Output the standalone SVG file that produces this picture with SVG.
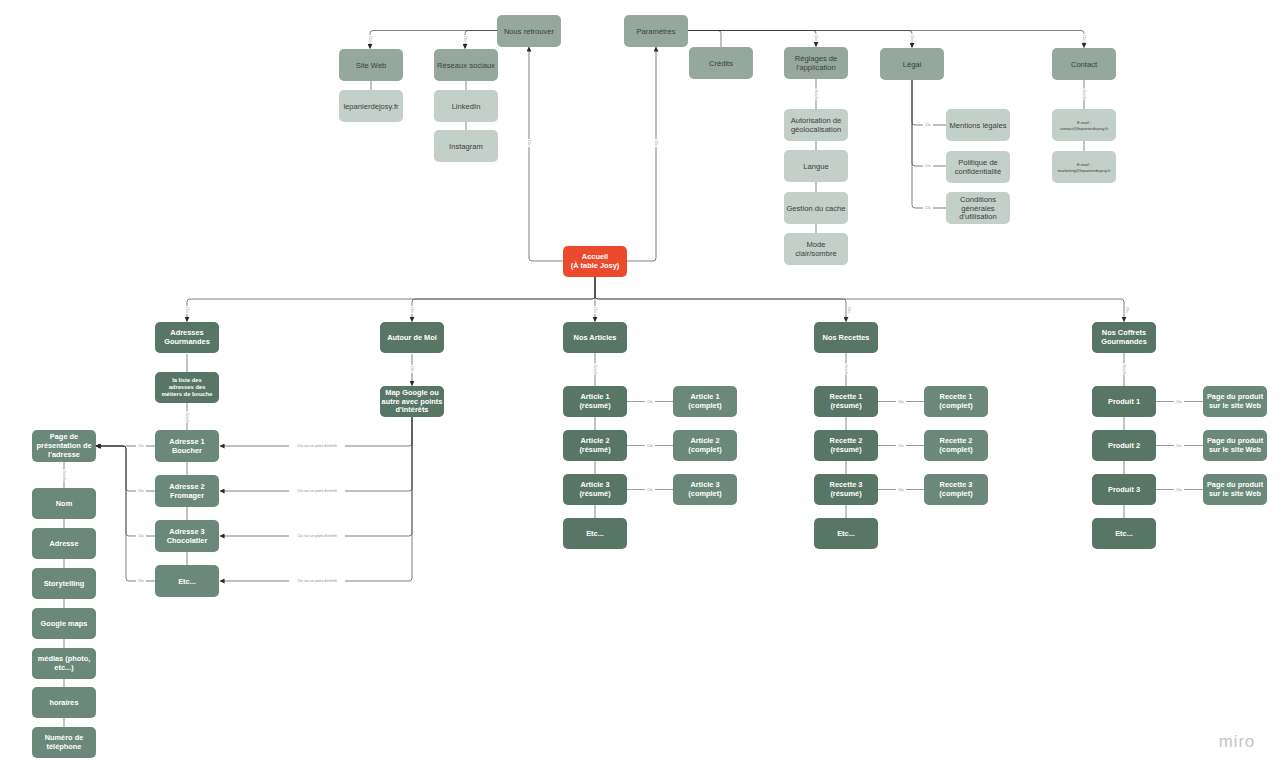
<svg xmlns="http://www.w3.org/2000/svg" width="1286" height="777" viewBox="0 0 1286 777">
<defs>
<marker id="ar" viewBox="0 0 6 6" refX="5.5" refY="3" markerWidth="5" markerHeight="5" orient="auto" markerUnits="userSpaceOnUse">
<path d="M0,0 L6,3 L0,6 z" fill="#2a2a2a"/>
</marker>
<style>
.n rect{rx:5;ry:5}
.top rect{fill:#95a89e}
.lt rect{fill:#c3cfc9}
.dk rect{fill:#587666}
.md rect{fill:#6b897b}
.rd rect{fill:#ec4a2c}
text{font-family:"Liberation Sans",Arial,sans-serif;text-anchor:middle}
.top text,.lt text{fill:#3d3d3d;font-size:7.6px}
.dk text,.md text,.rd text{fill:#ffffff;font-size:7.4px;font-weight:bold}
.c{fill:none;stroke:#333;stroke-opacity:.62;stroke-width:1}
.p{fill:none;stroke:#9c9c9c;stroke-width:1.2}
.lb{font-size:3.6px;fill:#8d8d8d}
.lbb{fill:#fff}
</style>
</defs>
<rect width="1286" height="777" fill="#ffffff"/>

<g id="connectors">
<path class="c" d="M497,30.5 H373 Q370,30.5 370,33.5 V48.5" marker-end="url(#ar)"/>
<path class="c" d="M497,30.5 H468 Q465,30.5 465,33.5 V48.5" marker-end="url(#ar)"/>
<path class="p" d="M371,81 V90 M466,81 V90 M466,122 V130"/>
<path class="c" d="M563,261 H532 Q529,261 529,258 V47" marker-end="url(#ar)"/>
<path class="c" d="M627,261 H653 Q656,261 656,258 V47" marker-end="url(#ar)"/>
<path class="c" d="M688,30.5 H718 Q721,30.5 721,33.5 V47"/>
<path class="c" d="M688,30.5 H813 Q816,30.5 816,33.5 V46.5" marker-end="url(#ar)"/>
<path class="c" d="M688,30.5 H909 Q912,30.5 912,33.5 V47.5" marker-end="url(#ar)"/>
<path class="c" d="M688,30.5 H1081 Q1084,30.5 1084,33.5 V47.5" marker-end="url(#ar)"/>
<path class="p" d="M816,79 V109 M816,141 V150 M816,182 V192 M816,224 V233"/>
<path class="c" d="M912,80 V122 Q912,125 915,125 H946"/>
<path class="c" d="M912,80 V163 Q912,166 915,166 H946"/>
<path class="c" d="M912,80 V205 Q912,208 915,208 H946"/>
<path class="p" d="M1084,80 V109 M1084,141 V151"/>
<path class="c" d="M595,277 V296 Q595,299 592,299 H190 Q187,299 187,302 V321.5" marker-end="url(#ar)"/>
<path class="c" d="M595,277 V296 Q595,299 592,299 H415 Q412,299 412,302 V321.5" marker-end="url(#ar)"/>
<path class="c" d="M595,277 V321.5" marker-end="url(#ar)"/>
<path class="c" d="M595,277 V296 Q595,299 598,299 H843 Q846,299 846,302 V321.5" marker-end="url(#ar)"/>
<path class="c" d="M595,277 V296 Q595,299 598,299 H1121 Q1124,299 1124,302 V321.5" marker-end="url(#ar)"/>
<path class="p" d="M187,354 V372 M187,403 V430 M187,462 V475 M187,507 V520 M187,552 V565"/>
<path class="c" d="M155,446 H96" marker-end="url(#ar)"/>
<path class="c" d="M155,491 H129 Q126,491 126,488 V449 Q126,446 123,446 H96" marker-end="url(#ar)"/>
<path class="c" d="M155,536 H129 Q126,536 126,533 V449 Q126,446 123,446 H96" marker-end="url(#ar)"/>
<path class="c" d="M155,581 H129 Q126,581 126,578 V449 Q126,446 123,446 H96" marker-end="url(#ar)"/>
<path class="p" d="M64,462 V488 M64,519 V528 M64,559 V568 M64,599 V608 M64,639 V648 M64,679 V687 M64,718 V727"/>
<path class="c" d="M412,354 V385.5" marker-end="url(#ar)"/>
<path class="c" d="M412,417 V443 Q412,446 409,446 H220" marker-end="url(#ar)"/>
<path class="c" d="M412,417 V488 Q412,491 409,491 H220" marker-end="url(#ar)"/>
<path class="c" d="M412,417 V533 Q412,536 409,536 H220" marker-end="url(#ar)"/>
<path class="c" d="M412,417 V578 Q412,581 409,581 H220" marker-end="url(#ar)"/>
<path class="p" d="M595,353 V386 M595,417 V430 M595,461 V474 M595,505 V518"/>
<path class="p" d="M627,401.5 H673 M627,445.5 H673 M627,489.5 H673"/>
<path class="p" d="M846,353 V386 M846,417 V430 M846,461 V474 M846,505 V518"/>
<path class="p" d="M878,401.5 H924 M878,445.5 H924 M878,489.5 H924"/>
<path class="p" d="M1124,353 V386 M1124,417 V430 M1124,461 V474 M1124,505 V518"/>
<path class="p" d="M1156,401.5 H1203 M1156,445.5 H1203 M1156,489.5 H1203"/>

<g id="labels-v">
<g transform="translate(370,39) rotate(90)"><rect class="lbb" x="-4" y="-2.5" width="8" height="5"/><text class="lb" y="1.3">Clic</text></g>
<g transform="translate(465,39) rotate(90)"><rect class="lbb" x="-4" y="-2.5" width="8" height="5"/><text class="lb" y="1.3">Clic</text></g>
<g transform="translate(529,143) rotate(90)"><rect class="lbb" x="-4" y="-2.5" width="8" height="5"/><text class="lb" y="1.3">Clic</text></g>
<g transform="translate(656,143) rotate(90)"><rect class="lbb" x="-4" y="-2.5" width="8" height="5"/><text class="lb" y="1.3">Clic</text></g>
<g transform="translate(816,38) rotate(90)"><rect class="lbb" x="-4" y="-2.5" width="8" height="5"/><text class="lb" y="1.3">Clic</text></g>
<g transform="translate(912,38) rotate(90)"><rect class="lbb" x="-4" y="-2.5" width="8" height="5"/><text class="lb" y="1.3">Clic</text></g>
<g transform="translate(1084,38) rotate(90)"><rect class="lbb" x="-4" y="-2.5" width="8" height="5"/><text class="lb" y="1.3">Clic</text></g>
<g transform="translate(816,94) rotate(90)"><rect class="lbb" x="-5.5" y="-2.5" width="11" height="5"/><text class="lb" y="1.3">Scroll</text></g>
<g transform="translate(1084,94) rotate(90)"><rect class="lbb" x="-5.5" y="-2.5" width="11" height="5"/><text class="lb" y="1.3">Scroll</text></g>
<g transform="translate(187,310) rotate(90)"><rect class="lbb" x="-4" y="-2.5" width="8" height="5"/><text class="lb" y="1.3">Clic</text></g>
<g transform="translate(412,310) rotate(90)"><rect class="lbb" x="-4" y="-2.5" width="8" height="5"/><text class="lb" y="1.3">Clic</text></g>
<g transform="translate(595,310) rotate(90)"><rect class="lbb" x="-4" y="-2.5" width="8" height="5"/><text class="lb" y="1.3">Clic</text></g>
<g transform="translate(849,310) rotate(90)"><text class="lb" y="1.3">Clic</text></g>
<g transform="translate(1127,310) rotate(90)"><text class="lb" y="1.3">Clic</text></g>
<g transform="translate(187,417) rotate(90)"><rect class="lbb" x="-5.5" y="-2.5" width="11" height="5"/><text class="lb" y="1.3">Scroll</text></g>
<g transform="translate(64,475) rotate(90)"><rect class="lbb" x="-5.5" y="-2.5" width="11" height="5"/><text class="lb" y="1.3">Scroll</text></g>
<g transform="translate(412,369) rotate(90)"><rect class="lbb" x="-4" y="-2.5" width="8" height="5"/><text class="lb" y="1.3">Clic</text></g>
<g transform="translate(595,369) rotate(90)"><rect class="lbb" x="-5.5" y="-2.5" width="11" height="5"/><text class="lb" y="1.3">Scroll</text></g>
<g transform="translate(846,369) rotate(90)"><rect class="lbb" x="-5.5" y="-2.5" width="11" height="5"/><text class="lb" y="1.3">Scroll</text></g>
<g transform="translate(1124,369) rotate(90)"><rect class="lbb" x="-5.5" y="-2.5" width="11" height="5"/><text class="lb" y="1.3">Scroll</text></g>
</g>
<g id="labels-h">
<rect class="lbb" x="923" y="122.5" width="10" height="5"/><text class="lb" x="928" y="126.3">Clic</text>
<rect class="lbb" x="923" y="163.5" width="10" height="5"/><text class="lb" x="928" y="167.3">Clic</text>
<rect class="lbb" x="923" y="205.5" width="10" height="5"/><text class="lb" x="928" y="209.3">Clic</text>
<rect class="lbb" x="136" y="443.5" width="10" height="5"/><text class="lb" x="141" y="447.3">Clic</text>
<rect class="lbb" x="136" y="488.5" width="10" height="5"/><text class="lb" x="141" y="492.3">Clic</text>
<rect class="lbb" x="136" y="533.5" width="10" height="5"/><text class="lb" x="141" y="537.3">Clic</text>
<rect class="lbb" x="136" y="578.5" width="10" height="5"/><text class="lb" x="141" y="582.3">Clic</text>
<rect class="lbb" x="289" y="443.5" width="56" height="5"/><text class="lb" x="317" y="447.3">Clic sur un point d'intérêt</text>
<rect class="lbb" x="289" y="488.5" width="56" height="5"/><text class="lb" x="317" y="492.3">Clic sur un point d'intérêt</text>
<rect class="lbb" x="289" y="533.5" width="56" height="5"/><text class="lb" x="317" y="537.3">Clic sur un point d'intérêt</text>
<rect class="lbb" x="289" y="578.5" width="56" height="5"/><text class="lb" x="317" y="582.3">Clic sur un point d'intérêt</text>
<rect class="lbb" x="645" y="399" width="10" height="5"/><text class="lb" x="650" y="402.8">Clic</text>
<rect class="lbb" x="645" y="443" width="10" height="5"/><text class="lb" x="650" y="446.8">Clic</text>
<rect class="lbb" x="645" y="487" width="10" height="5"/><text class="lb" x="650" y="490.8">Clic</text>
<rect class="lbb" x="896" y="399" width="10" height="5"/><text class="lb" x="901" y="402.8">Clic</text>
<rect class="lbb" x="896" y="443" width="10" height="5"/><text class="lb" x="901" y="446.8">Clic</text>
<rect class="lbb" x="896" y="487" width="10" height="5"/><text class="lb" x="901" y="490.8">Clic</text>
<rect class="lbb" x="1174" y="399" width="10" height="5"/><text class="lb" x="1179" y="402.8">Clic</text>
<rect class="lbb" x="1174" y="443" width="10" height="5"/><text class="lb" x="1179" y="446.8">Clic</text>
<rect class="lbb" x="1174" y="487" width="10" height="5"/><text class="lb" x="1179" y="490.8">Clic</text>
</g>
</g>

<g id="nodes">
<g id="n-nous-retrouver" class="n top"><rect x="497" y="15" width="64" height="32"/><text x="529" y="33.7">Nous retrouver</text></g>
<g id="n-parametres" class="n top"><rect x="624" y="15" width="64" height="32"/><text x="656" y="33.7">Paramètres</text></g>
<g id="n-site-web" class="n top"><rect x="339" y="49" width="64" height="32"/><text x="371" y="67.7">Site Web</text></g>
<g id="n-lepanier" class="n lt"><rect x="339" y="90" width="64" height="32"/><text x="371" y="108.7">lepanierdejosy.fr</text></g>
<g id="n-reseaux" class="n top"><rect x="434" y="49" width="64" height="32"/><text x="466" y="67.7">Réseaux sociaux</text></g>
<g id="n-linkedin" class="n lt"><rect x="434" y="90" width="64" height="32"/><text x="466" y="108.7">LinkedIn</text></g>
<g id="n-instagram" class="n lt"><rect x="434" y="130" width="64" height="32"/><text x="466" y="148.7">Instagram</text></g>
<g id="n-credits" class="n top"><rect x="689" y="47" width="64" height="32"/><text x="721" y="65.7">Crédits</text></g>
<g id="n-reglages" class="n top"><rect x="784" y="47" width="64" height="32"/><text x="816" y="61.3">Réglages de</text><text x="816" y="69.8">l'application</text></g>
<g id="n-legal" class="n top"><rect x="880" y="48" width="64" height="32"/><text x="912" y="66.7">Légal</text></g>
<g id="n-contact" class="n top"><rect x="1052" y="48" width="64" height="32"/><text x="1084" y="66.7">Contact</text></g>
<g id="n-geoloc" class="n lt"><rect x="784" y="109" width="64" height="32"/><text x="816" y="123.3">Autorisation de</text><text x="816" y="131.8">géolocalisation</text></g>
<g id="n-langue" class="n lt"><rect x="784" y="150" width="64" height="32"/><text x="816" y="168.7">Langue</text></g>
<g id="n-cache" class="n lt"><rect x="784" y="192" width="64" height="32"/><text x="816" y="210.7">Gestion du cache</text></g>
<g id="n-mode" class="n lt"><rect x="784" y="233" width="64" height="32"/><text x="816" y="247.3">Mode</text><text x="816" y="255.8">clair/sombre</text></g>
<g id="n-mentions" class="n lt"><rect x="946" y="109" width="64" height="32"/><text x="978" y="127.7">Mentions légales</text></g>
<g id="n-politique" class="n lt"><rect x="946" y="151" width="64" height="32"/><text x="978" y="165.3">Politique de</text><text x="978" y="173.8">confidentialité</text></g>
<g id="n-cgu" class="n lt"><rect x="946" y="192" width="64" height="32"/><text x="978" y="202">Conditions</text><text x="978" y="210.5">générales</text><text x="978" y="219">d'utilisation</text></g>
<g id="n-email1" class="n lt"><rect x="1052" y="109" width="64" height="32"/><text x="1084" y="124" style="font-size:4.2px">E-mail :</text><text x="1084" y="129.5" style="font-size:4.2px">contact@lepanierdejosy.fr</text></g>
<g id="n-email2" class="n lt"><rect x="1052" y="151" width="64" height="32"/><text x="1084" y="166" style="font-size:4.2px">E-mail :</text><text x="1084" y="171.5" style="font-size:4.2px">marketing@lepanierdejosy.fr</text></g>

<g id="n-accueil" class="n rd"><rect x="563" y="246" width="64" height="31"/><text x="595" y="259">Accueil</text><text x="595" y="268">(À table Josy)</text></g>

<g id="n-adresses" class="n dk"><rect x="155" y="322" width="64" height="31"/><text x="187" y="335">Adresses</text><text x="187" y="344">Gourmandes</text></g>
<g id="n-liste" class="n dk"><rect x="155" y="372" width="64" height="31"/><text x="187" y="381.5" style="font-size:5.8px">la liste des</text><text x="187" y="388.5" style="font-size:5.8px">adresses des</text><text x="187" y="395.5" style="font-size:5.8px">métiers de bouche</text></g>
<g id="n-adresse1" class="n md"><rect x="155" y="430" width="64" height="32"/><text x="187" y="443.5">Adresse 1</text><text x="187" y="452.5">Boucher</text></g>
<g id="n-adresse2" class="n md"><rect x="155" y="475" width="64" height="32"/><text x="187" y="488.5">Adresse 2</text><text x="187" y="497.5">Fromager</text></g>
<g id="n-adresse3" class="n md"><rect x="155" y="520" width="64" height="32"/><text x="187" y="533.5">Adresse 3</text><text x="187" y="542.5">Chocolatier</text></g>
<g id="n-adresse-etc" class="n md"><rect x="155" y="565" width="64" height="32"/><text x="187" y="583.7">Etc...</text></g>

<g id="n-page-adresse" class="n md"><rect x="32" y="430" width="64" height="32"/><text x="64" y="439">Page de</text><text x="64" y="447.8">présentation de</text><text x="64" y="456.6">l'adresse</text></g>
<g id="n-nom" class="n md"><rect x="32" y="488" width="64" height="31"/><text x="64" y="506.2">Nom</text></g>
<g id="n-adresse" class="n md"><rect x="32" y="528" width="64" height="31"/><text x="64" y="546.2">Adresse</text></g>
<g id="n-storytelling" class="n md"><rect x="32" y="568" width="64" height="31"/><text x="64" y="586.2">Storytelling</text></g>
<g id="n-gmaps" class="n md"><rect x="32" y="608" width="64" height="31"/><text x="64" y="626.2">Google maps</text></g>
<g id="n-medias" class="n md"><rect x="32" y="648" width="64" height="31"/><text x="64" y="661">médias (photo,</text><text x="64" y="670">etc...)</text></g>
<g id="n-horaires" class="n md"><rect x="32" y="687" width="64" height="31"/><text x="64" y="705.2">horaires</text></g>
<g id="n-telephone" class="n md"><rect x="32" y="727" width="64" height="31"/><text x="64" y="740">Numéro de</text><text x="64" y="749">téléphone</text></g>

<g id="n-autour" class="n dk"><rect x="380" y="322" width="64" height="31"/><text x="412" y="340.2">Autour de Moi</text></g>
<g id="n-map" class="n dk"><rect x="380" y="386" width="64" height="31"/><text x="412" y="395">Map Google ou</text><text x="412" y="403.5">autre avec points</text><text x="412" y="412">d'intérêts</text></g>

<g id="n-articles" class="n dk"><rect x="563" y="322" width="64" height="31"/><text x="595" y="340.2">Nos Articles</text></g>
<g id="n-art1" class="n dk"><rect x="563" y="386" width="64" height="31"/><text x="595" y="399">Article 1</text><text x="595" y="408">(résumé)</text></g>
<g id="n-art2" class="n dk"><rect x="563" y="430" width="64" height="31"/><text x="595" y="443">Article 2</text><text x="595" y="452">(résumé)</text></g>
<g id="n-art3" class="n dk"><rect x="563" y="474" width="64" height="31"/><text x="595" y="487">Article 3</text><text x="595" y="496">(résumé)</text></g>
<g id="n-art-etc" class="n dk"><rect x="563" y="518" width="64" height="31"/><text x="595" y="536.2">Etc...</text></g>
<g id="n-art1c" class="n md"><rect x="673" y="386" width="64" height="31"/><text x="705" y="399">Article 1</text><text x="705" y="408">(complet)</text></g>
<g id="n-art2c" class="n md"><rect x="673" y="430" width="64" height="31"/><text x="705" y="443">Article 2</text><text x="705" y="452">(complet)</text></g>
<g id="n-art3c" class="n md"><rect x="673" y="474" width="64" height="31"/><text x="705" y="487">Article 3</text><text x="705" y="496">(complet)</text></g>

<g id="n-recettes" class="n dk"><rect x="814" y="322" width="64" height="31"/><text x="846" y="340.2">Nos Recettes</text></g>
<g id="n-rec1" class="n dk"><rect x="814" y="386" width="64" height="31"/><text x="846" y="399">Recette 1</text><text x="846" y="408">(résumé)</text></g>
<g id="n-rec2" class="n dk"><rect x="814" y="430" width="64" height="31"/><text x="846" y="443">Recette 2</text><text x="846" y="452">(résumé)</text></g>
<g id="n-rec3" class="n dk"><rect x="814" y="474" width="64" height="31"/><text x="846" y="487">Recette 3</text><text x="846" y="496">(résumé)</text></g>
<g id="n-rec-etc" class="n dk"><rect x="814" y="518" width="64" height="31"/><text x="846" y="536.2">Etc...</text></g>
<g id="n-rec1c" class="n md"><rect x="924" y="386" width="64" height="31"/><text x="956" y="399">Recette 1</text><text x="956" y="408">(complet)</text></g>
<g id="n-rec2c" class="n md"><rect x="924" y="430" width="64" height="31"/><text x="956" y="443">Recette 2</text><text x="956" y="452">(complet)</text></g>
<g id="n-rec3c" class="n md"><rect x="924" y="474" width="64" height="31"/><text x="956" y="487">Recette 3</text><text x="956" y="496">(complet)</text></g>

<g id="n-coffrets" class="n dk"><rect x="1092" y="322" width="64" height="31"/><text x="1124" y="335">Nos Coffrets</text><text x="1124" y="344">Gourmandes</text></g>
<g id="n-prod1" class="n dk"><rect x="1092" y="386" width="64" height="31"/><text x="1124" y="404.2">Produit 1</text></g>
<g id="n-prod2" class="n dk"><rect x="1092" y="430" width="64" height="31"/><text x="1124" y="448.2">Produit 2</text></g>
<g id="n-prod3" class="n dk"><rect x="1092" y="474" width="64" height="31"/><text x="1124" y="492.2">Produit 3</text></g>
<g id="n-prod-etc" class="n dk"><rect x="1092" y="518" width="64" height="31"/><text x="1124" y="536.2">Etc...</text></g>
<g id="n-page1" class="n md"><rect x="1203" y="386" width="64" height="31"/><text x="1235" y="399">Page du produit</text><text x="1235" y="408">sur le site Web</text></g>
<g id="n-page2" class="n md"><rect x="1203" y="430" width="64" height="31"/><text x="1235" y="443">Page du produit</text><text x="1235" y="452">sur le site Web</text></g>
<g id="n-page3" class="n md"><rect x="1203" y="474" width="64" height="31"/><text x="1235" y="487">Page du produit</text><text x="1235" y="496">sur le site Web</text></g>
</g>

<text x="1237" y="747" style="font-size:17px;fill:#c6c6c6;letter-spacing:0.8px">miro</text>
</svg>
